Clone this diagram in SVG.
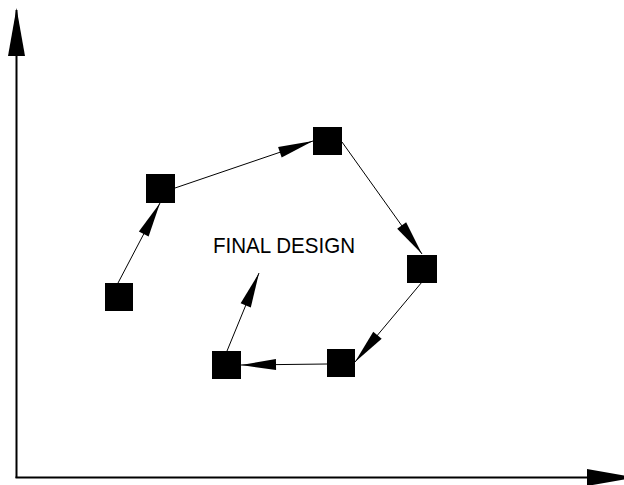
<svg xmlns="http://www.w3.org/2000/svg" width="624" height="485" viewBox="0 0 624 485">
  <style>
    .node { fill: #000; }
    .edge { stroke: #000; stroke-width: 1; fill: none; marker-end: url(#head); }
    .axis { stroke: #000; stroke-width: 2; fill: none; marker-end: url(#axisHead); }
    .label { font-family: "Liberation Sans", Arial, sans-serif; font-size: 22px; fill: #000; }
  </style>
  <defs>
    <marker id="head" markerUnits="userSpaceOnUse" markerWidth="36" markerHeight="12" refX="35" refY="5.5" orient="auto" overflow="visible">
      <path d="M0,0 L35,5.5 L0,11 z" fill="#000"/>
    </marker>
    <marker id="axisHead" markerUnits="userSpaceOnUse" markerWidth="48" markerHeight="17" refX="46" refY="8.5" orient="auto" overflow="visible">
      <path d="M0,0 L48,8.5 L0,17 z" fill="#000"/>
    </marker>
  </defs>
  <rect width="624" height="485" fill="#fff"/>

  <!-- axes -->
  <g id="axes">
    <path class="axis" d="M16.5,478 L16.5,10"/>
    <path class="axis" d="M15.5,477.5 L633,477.5"/>
  </g>

  <!-- connectors between design iterations -->
  <g id="connectors">
    <path class="edge" d="M118,283 L160,203"/>
    <path class="edge" d="M175,188 L313,141"/>
    <path class="edge" d="M342,142 L422,254"/>
    <path class="edge" d="M422,282 L355,362"/>
    <path class="edge" d="M327,364 L241,365"/>
    <path class="edge" d="M227,351 L259,273"/>
  </g>

  <g id="n1"><rect class="node" x="105" y="283" width="28" height="28"/></g>
  <g id="n2"><rect class="node" x="146" y="174" width="29" height="29"/></g>
  <g id="n3"><rect class="node" x="313" y="127" width="29" height="28"/></g>
  <g id="n4"><rect class="node" x="407" y="255" width="30" height="28"/></g>
  <g id="n5"><rect class="node" x="327" y="349" width="28" height="28"/></g>
  <g id="n6"><rect class="node" x="212" y="351" width="29" height="28"/></g>

  <g id="final-design">
    <text class="label" x="213" y="253" textLength="142" lengthAdjust="spacingAndGlyphs">FINAL DESIGN</text>
  </g>
</svg>
